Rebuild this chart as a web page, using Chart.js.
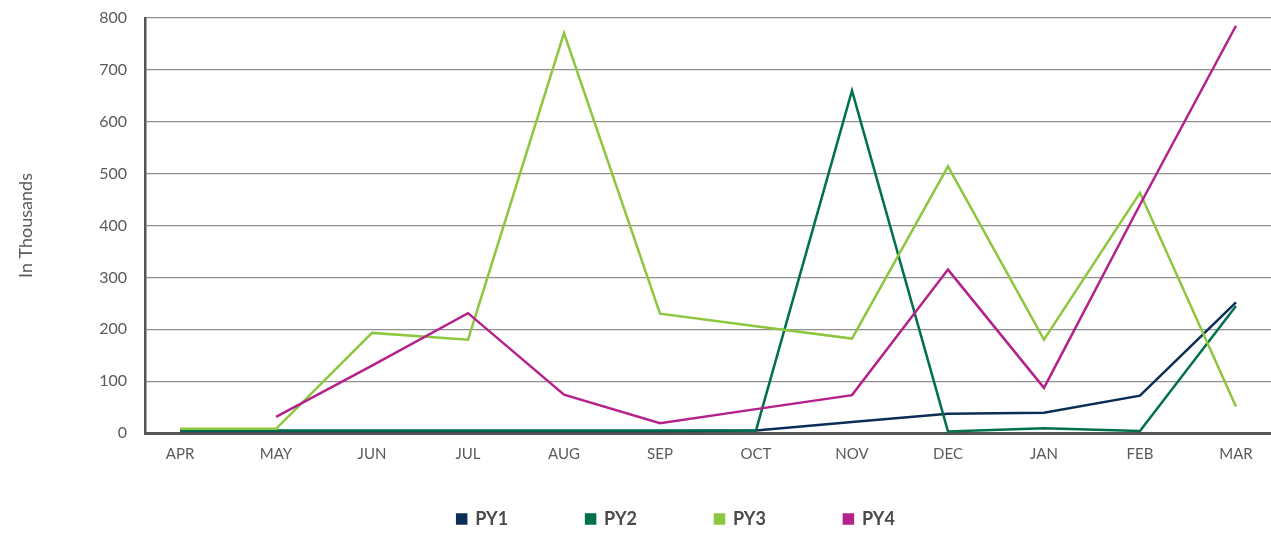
<!DOCTYPE html>
<html>
<head>
<meta charset="utf-8">
<script src="https://cdn.jsdelivr.net/npm/chart.js@4.4.1/dist/chart.umd.min.js"></script>
<style>
  html, body { margin: 0; padding: 0; background: #fff; }
  #wrap { width: 1271px; height: 533px; position: relative; }
</style>
</head>
<body>
<div id="wrap"><canvas id="c"></canvas></div>
<script>
const months = ['APR','MAY','JUN','JUL','AUG','SEP','OCT','NOV','DEC','JAN','FEB','MAR'];
const yTicks = [0,100,200,300,400,500,600,700,800];
const py1 = [4, 4, 4, 4, 4, 4, 5, 21, 37, 39, 72, 252];
const py2 = [5, 5, 5, 5, 5, 5, 5, 660, 3, 9, 4, 245];
const py3 = [8, 8, 193, 180, 771, 230, 206, 182, 514, 180, 463, 51];
const py4 = [null, 31, 130, 231, 74, 19, 46, 73, 315, 87, 440, 785];
const seriesNames = ['PY1','PY2','PY3','PY4'];
const seriesColors = ['#0b2e56', '#00704f', '#8dc63f', '#b5218a'];

const toPts = arr => arr.map((v, i) => ({ x: i, y: v }));
const allSeries = [py1, py2, py3, py4];

const legendShift = {
  id: 'legendShift',
  afterLayout(chart) {
    const lg = chart.legend;
    if (!lg) return;
    const pad = lg.options.labels.padding;
    lg.left += 33;
    lg.right += 33;
    lg.top = 510 - pad;
    lg.bottom = 533;
    lg.height = lg.bottom - lg.top;
  }
};

new Chart(document.getElementById('c'), {
  type: 'line',
  data: {
    datasets: allSeries.map((arr, i) => ({
      label: seriesNames[i],
      data: toPts(arr),
      borderColor: seriesColors[i],
      backgroundColor: seriesColors[i],
      borderWidth: 2.5,
      pointRadius: 0,
      tension: 0,
      fill: false,
      order: 3 - i
    }))
  },
  options: {
    responsive: true,
    maintainAspectRatio: false,
    animation: false,
    layout: { padding: { left: 15, right: 0, top: 18, bottom: 20 } },
    plugins: {
      tooltip: { enabled: false },
      legend: {
        position: 'bottom',
        maxHeight: 50,
        labels: {
          boxWidth: 9,
          boxHeight: 9,
          padding: 78,
          color: '#4a4a4a',
          font: { family: 'Lato', size: 18, weight: 'bold' },
          sort: (a, b) => a.datasetIndex - b.datasetIndex
        }
      }
    },
    scales: {
      x: {
        type: 'linear',
        min: -0.365,
        max: 11.365,
        afterFit: s => { s.height = 30; s.paddingLeft = 0; s.paddingRight = 0; },
        grid: { display: false, drawTicks: false },
        border: { display: true, color: '#555', width: 3 },
        ticks: {
          stepSize: 1,
          includeBounds: false,
          autoSkip: false,
          maxRotation: 0,
          padding: 12,
          color: '#5a5a5a',
          font: { family: 'Lato', size: 15 },
          callback: v => months[v] ?? ''
        }
      },
      y: {
        min: yTicks[0],
        max: yTicks[yTicks.length - 1],
        afterFit: s => { s.width = 130; s.paddingTop = 0; s.paddingBottom = 0; },
        grid: { color: '#8f8f8f', lineWidth: 1.2, drawTicks: false },
        border: { display: true, color: '#555', width: 2.5 },
        ticks: {
          stepSize: 100,
          padding: 18,
          color: '#5a5a5a',
          font: { family: 'Lato', size: 16 }
        },
        title: {
          display: true,
          text: 'In Thousands',
          color: '#5a5a5a',
          font: { family: 'Lato', size: 18 },
          padding: { top: 0, bottom: 0 }
        }
      }
    }
  },
  plugins: [legendShift]
});
</script>
</body>
</html>
